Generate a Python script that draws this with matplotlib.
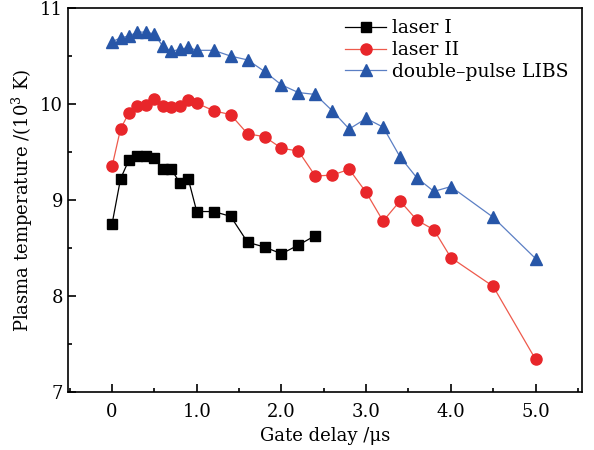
import matplotlib
matplotlib.use("Agg")
import matplotlib.pyplot as plt
from matplotlib.ticker import MultipleLocator

# gate delay (us) and plasma temperature (10^3 K)
delay_laser1 = [0, 0.1, 0.2, 0.3, 0.4, 0.5, 0.6, 0.7, 0.8, 0.9, 1.0,
                1.2, 1.4, 1.6, 1.8, 2.0, 2.2, 2.4]
temp_laser1 = [8.75, 9.22, 9.42, 9.46, 9.46, 9.44, 9.32, 9.32, 9.18, 9.22, 8.88,
               8.88, 8.83, 8.56, 8.51, 8.44, 8.53, 8.63]

delay_long = [0, 0.1, 0.2, 0.3, 0.4, 0.5, 0.6, 0.7, 0.8, 0.9, 1.0,
              1.2, 1.4, 1.6, 1.8, 2.0, 2.2, 2.4, 2.6, 2.8, 3.0,
              3.2, 3.4, 3.6, 3.8, 4.0, 4.5, 5.0]
temp_laser2 = [9.35, 9.74, 9.91, 9.98, 9.99, 10.05, 9.98, 9.97, 9.98, 10.04, 10.01,
               9.93, 9.89, 9.69, 9.66, 9.54, 9.51, 9.25, 9.26, 9.32, 9.08,
               8.78, 8.99, 8.79, 8.69, 8.40, 8.10, 7.34]
temp_double = [10.65, 10.69, 10.71, 10.75, 10.75, 10.73, 10.60, 10.55, 10.57, 10.59, 10.56,
               10.56, 10.50, 10.46, 10.34, 10.20, 10.12, 10.10, 9.93, 9.74, 9.85,
               9.76, 9.45, 9.23, 9.09, 9.14, 8.82, 8.39]

xtick_vals = [0, 1, 2, 3, 4, 5]
xtick_labels = ["0", "1.0", "2.0", "3.0", "4.0", "5.0"]

plt.rcParams["font.family"] = ["DejaVu Serif"]
plt.rcParams["mathtext.fontset"] = "dejavuserif"

fig = plt.figure(figsize=(5.94, 4.5), dpi=100)
ax = fig.add_axes([0.1145, 0.129, 0.8655, 0.853])

ax.plot(delay_laser1, temp_laser1, color="black", lw=0.9, marker="s",
        markersize=7.5, label="laser I")
ax.plot(delay_long, temp_laser2, color="#ee5a4c", lw=0.9, marker="o",
        markersize=8, markerfacecolor="#e8262a", markeredgecolor="#e8262a",
        label="laser II")
ax.plot(delay_long, temp_double, color="#5b7fc4", lw=0.9, marker="^",
        markersize=9, markerfacecolor="#2756a8", markeredgecolor="#2756a8",
        label="double\u2013pulse LIBS")

ax.set_xlim(-0.52, 5.55)
ax.set_ylim(7, 11)
ax.set_xticks(xtick_vals)
ax.set_xticklabels(xtick_labels)
ax.xaxis.set_minor_locator(MultipleLocator(0.5))
ax.yaxis.set_major_locator(MultipleLocator(1))
ax.yaxis.set_minor_locator(MultipleLocator(0.5))
ax.tick_params(which="both", direction="in", top=False, right=False,
               labelsize=13, width=1.2)
ax.tick_params(which="major", length=6)
ax.tick_params(which="minor", length=3)
ax.tick_params(axis="x", which="major", pad=8)
for s in ax.spines.values():
    s.set_linewidth(1.2)

ax.set_xlabel("Gate delay /\u03bcs", fontsize=13, labelpad=4)
ax.set_ylabel("Plasma temperature /(10$^3$ K)", fontsize=13, labelpad=4)

ax.legend(loc="upper right", frameon=False, fontsize=13.5, handlelength=2.2,
          handletextpad=0.3, labelspacing=0.2, borderaxespad=0.2,
          bbox_to_anchor=(0.995, 1.0))

fig.savefig("out.png", dpi=100)
